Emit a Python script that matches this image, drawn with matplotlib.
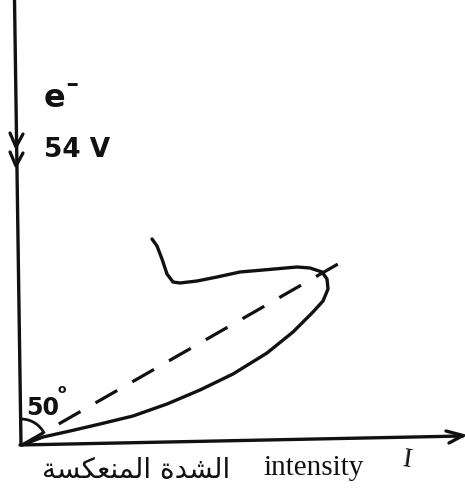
import matplotlib
matplotlib.use("Agg")
import matplotlib.pyplot as plt
from matplotlib.patches import Arc
import numpy as np

plt.rcParams['lines.scale_dashes'] = False
plt.rcParams['lines.solid_capstyle'] = 'round'

W, H = 465, 489  # canvas in pixels, y grows downward

# axes of the sketch (pixel coords)
vert_axis_x = [14.5, 21]
vert_axis_y = [0, 446]
horiz_axis_x = [20, 463]
horiz_axis_y = [446, 437]

# the two chevrons on the incident beam
chevron_tips_y = [148, 167]
beam_x = 16

# polar lobe of the scattered intensity, traced from the origin round the tip
lobe_x = [22, 43, 70, 100, 133, 167, 200, 233, 267, 293, 313, 323, 328, 327,
          322, 310, 297, 263, 240, 217, 197, 180, 173, 167, 162, 157, 152]
lobe_y = [446, 438, 432, 425, 417, 405, 391, 375, 354, 333, 313, 302, 290, 280,
          273, 269, 268, 271, 273, 278, 282, 284, 283, 275, 260, 247, 240]

# direction of the maximum (dashed)
peak_x = [22, 338]
peak_y = [446, 265]

angle_label = "50"
beam_label = "54 V"
electron_label = "e\u02c9"

fig = plt.figure(figsize=(W / 100, H / 100), dpi=100)
ax = fig.add_axes([0, 0, 1, 1])
ax.set_xlim(0, W)
ax.set_ylim(H, 0)
ax.axis('off')

ink = '#111111'
ax.plot(vert_axis_x, vert_axis_y, color=ink, lw=2.4)
ax.plot(horiz_axis_x, horiz_axis_y, color=ink, lw=2.4)

# arrowhead on the intensity axis
ax.plot([446, 463, 449], [432, 436.5, 444], color=ink, lw=2.4,
        solid_joinstyle='miter')

for ty in chevron_tips_y:
    ax.plot([beam_x - 6, beam_x, beam_x + 7], [ty - 14, ty, ty - 13],
            color=ink, lw=2.3)

ax.plot(lobe_x, lobe_y, color=ink, lw=2.4, solid_joinstyle='round')
ax.plot(peak_x, peak_y, color=ink, lw=2.3, dashes=(18, 12.5))

# angle between beam and peak
ax.add_patch(Arc((21, 446), 52, 52, theta1=-90, theta2=-26, color=ink, lw=2.0))

hand = dict(family='DejaVu Sans', color=ink, weight='bold')
ax.text(44, 107, electron_label, fontsize=23, va='baseline', **hand)
ax.text(44, 157, beam_label, fontsize=19, va='baseline', **hand)
ax.text(26, 415, angle_label, fontsize=17, va='baseline', **hand)
ax.text(57, 393, "o", fontsize=9, va='baseline', **hand)

# bottom caption: reflected intensity (Arabic, pre-shaped glyphs in visual order)
arabic = "\ufe94\ufeb4\ufedc\ufecc\ufee8\ufee4\ufedf\ufe8d \ufe93\ufeaa\ufeb8\ufedf\ufe8d"
ax.text(42, 478, arabic, fontsize=20, va='baseline', family='DejaVu Sans',
        color=ink)
ax.text(263, 475, "intensity", fontsize=21, va='baseline',
        family='Liberation Serif', color=ink)
ax.text(401, 467, "I", fontsize=20, va='baseline', family='Liberation Serif',
        color=ink, rotation=-8)

fig.savefig("out.png", dpi=100, facecolor='white')
